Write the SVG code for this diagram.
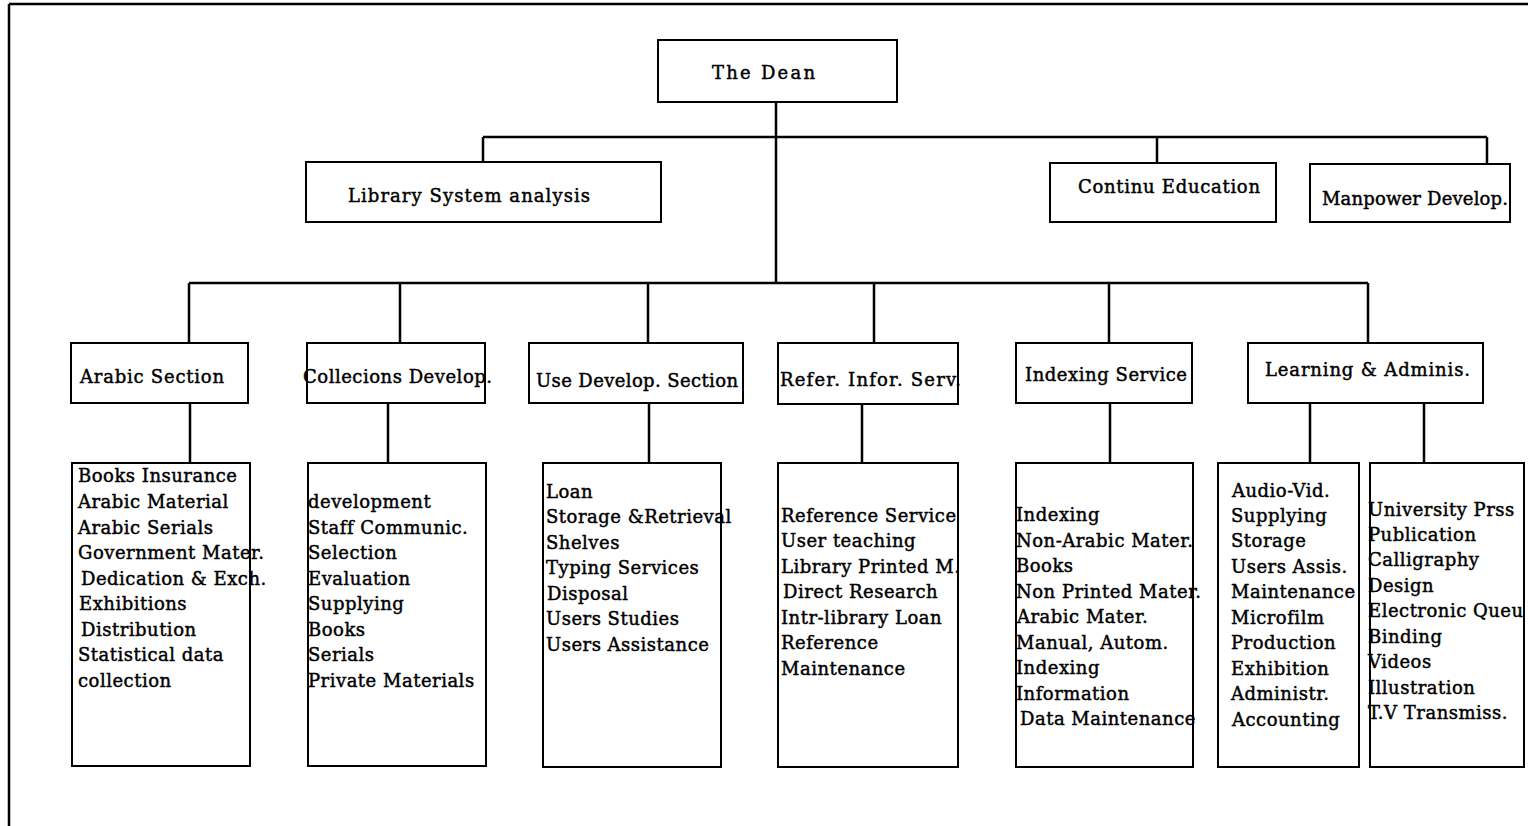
<svg xmlns="http://www.w3.org/2000/svg" width="1528" height="826" viewBox="0 0 1528 826">
<style>
.box{fill:#fff;stroke:#000;stroke-width:2}
.t{font-family:"DejaVu Serif","Liberation Serif",serif;font-size:18px;fill:#000;stroke:#000;stroke-width:0.45;letter-spacing:0.5px}
.h{font-family:"DejaVu Serif","Liberation Serif",serif;font-size:18px;fill:#000;stroke:#000;stroke-width:0.45}
.c{fill:none;stroke:#000;stroke-width:2.5}
</style>
<rect width="1528" height="826" fill="#fff"/>
<g id="frame"><path class="c" d="M9 4H1528M9 4V826"/></g>
<g id="connectors">
<path class="c" d="M776 102V283M483 137H1487M483 137V162M1157 137V163M1487 137V164"/>
<path class="c" d="M189 283H1368M189 283V343M400 283V343M648 283V343M874 283V343M1109 283V343M1368 283V343"/>
<path class="c" d="M190 403V463M388 403V463M649 403V463M862 404V463M1110 403V463M1310 403V463M1424 403V463"/>
</g>
<g id="dean"><rect class="box" x="658" y="40" width="239" height="62"/><text class="h" x="712" y="79" textLength="103">The Dean</text></g>
<g id="library-system"><rect class="box" x="306" y="162" width="355" height="60"/><text class="h" x="348" y="202" textLength="242">Library System analysis</text></g>
<g id="continu-education"><rect class="box" x="1050" y="163" width="226" height="59"/><text class="h" x="1078" y="193" textLength="182">Continu Education</text></g>
<g id="manpower"><rect class="box" x="1310" y="164" width="200" height="58"/><text class="h" x="1322" y="205" textLength="186">Manpower Develop.</text></g>
<g id="arabic-section"><rect class="box" x="71" y="343" width="177" height="60"/><text class="h" x="80" y="383" textLength="144">Arabic Section</text></g>
<g id="collecions"><rect class="box" x="307" y="343" width="178" height="60"/><text class="h" x="303" y="383" textLength="189">Collecions Develop.</text></g>
<g id="use-develop"><rect class="box" x="529" y="343" width="214" height="60"/><text class="h" x="536" y="387" textLength="202">Use Develop. Section</text></g>
<g id="refer"><rect class="box" x="778" y="343" width="180" height="61"/><text class="h" x="780" y="386" textLength="181">Refer. Infor. Serv.</text></g>
<g id="indexing-service"><rect class="box" x="1016" y="343" width="176" height="60"/><text class="h" x="1025" y="381" textLength="162">Indexing Service</text></g>
<g id="learning"><rect class="box" x="1248" y="343" width="235" height="60"/><text class="h" x="1265" y="376" textLength="205">Learning &amp; Adminis.</text></g>
<g id="arabic-list"><rect class="box" x="72" y="463" width="178" height="303"/>
<text class="t" x="78" y="482">Books Insurance</text>
<text class="t" x="78" y="508">Arabic Material</text>
<text class="t" x="78" y="534">Arabic Serials</text>
<text class="t" x="78" y="559">Government Mater.</text>
<text class="t" x="81" y="585">Dedication &amp; Exch.</text>
<text class="t" x="79" y="610">Exhibitions</text>
<text class="t" x="81" y="636">Distribution</text>
<text class="t" x="78" y="661">Statistical data</text>
<text class="t" x="78" y="687">collection</text>
</g>
<g id="collecions-list"><rect class="box" x="308" y="463" width="178" height="303"/>
<text class="t" x="308" y="508">development</text>
<text class="t" x="308" y="534">Staff Communic.</text>
<text class="t" x="308" y="559">Selection</text>
<text class="t" x="308" y="585">Evaluation</text>
<text class="t" x="308" y="610">Supplying</text>
<text class="t" x="308" y="636">Books</text>
<text class="t" x="308" y="661">Serials</text>
<text class="t" x="308" y="687">Private Materials</text>
</g>
<g id="use-list"><rect class="box" x="543" y="463" width="178" height="304"/>
<text class="t" x="546" y="498">Loan</text>
<text class="t" x="546" y="523">Storage &amp;Retrieval</text>
<text class="t" x="546" y="549">Shelves</text>
<text class="t" x="546" y="574">Typing Services</text>
<text class="t" x="547" y="600">Disposal</text>
<text class="t" x="546" y="625">Users Studies</text>
<text class="t" x="546" y="651">Users Assistance</text>
</g>
<g id="refer-list"><rect class="box" x="778" y="463" width="180" height="304"/>
<text class="t" x="781" y="522">Reference Service</text>
<text class="t" x="781" y="547">User teaching</text>
<text class="t" x="781" y="573">Library Printed M.</text>
<text class="t" x="783" y="598">Direct Research</text>
<text class="t" x="781" y="624">Intr-library Loan</text>
<text class="t" x="781" y="649">Reference</text>
<text class="t" x="781" y="675">Maintenance</text>
</g>
<g id="indexing-list"><rect class="box" x="1016" y="463" width="177" height="304"/>
<text class="t" x="1016" y="521">Indexing</text>
<text class="t" x="1016" y="547">Non-Arabic Mater.</text>
<text class="t" x="1016" y="572">Books</text>
<text class="t" x="1016" y="598">Non Printed Mater.</text>
<text class="t" x="1017" y="623">Arabic Mater.</text>
<text class="t" x="1016" y="649">Manual, Autom.</text>
<text class="t" x="1016" y="674">Indexing</text>
<text class="t" x="1016" y="700">Information</text>
<text class="t" x="1020" y="725">Data Maintenance</text>
</g>
<g id="learning-list-1"><rect class="box" x="1218" y="463" width="141" height="304"/>
<text class="t" x="1232" y="497">Audio-Vid.</text>
<text class="t" x="1231" y="522">Supplying</text>
<text class="t" x="1231" y="547">Storage</text>
<text class="t" x="1231" y="573">Users Assis.</text>
<text class="t" x="1231" y="598">Maintenance</text>
<text class="t" x="1231" y="624">Microfilm</text>
<text class="t" x="1231" y="649">Production</text>
<text class="t" x="1231" y="675">Exhibition</text>
<text class="t" x="1231" y="700">Administr.</text>
<text class="t" x="1232" y="726">Accounting</text>
</g>
<g id="learning-list-2"><rect class="box" x="1370" y="463" width="154" height="304"/>
<text class="t" x="1368" y="516">University Prss</text>
<text class="t" x="1368" y="541">Publication</text>
<text class="t" x="1368" y="566">Calligraphy</text>
<text class="t" x="1368" y="592">Design</text>
<text class="t" x="1368" y="617">Electronic Queu</text>
<text class="t" x="1368" y="643">Binding</text>
<text class="t" x="1368" y="668">Videos</text>
<text class="t" x="1368" y="694">Illustration</text>
<text class="t" x="1368" y="719">T.V Transmiss.</text>
</g>
</svg>
